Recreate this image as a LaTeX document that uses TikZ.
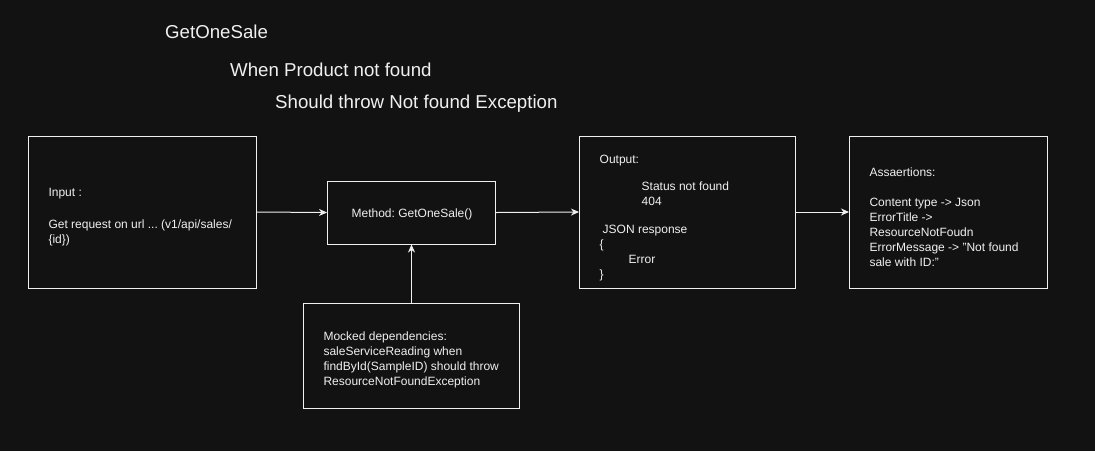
\documentclass[tikz,border=0pt]{standalone}
\usepackage{fontspec}
\setmainfont{Liberation Sans}
\usetikzlibrary{arrows.meta}
\definecolor{bg}{RGB}{18,18,18}
\definecolor{fg}{RGB}{240,240,240}
\frenchspacing
\begin{document}
\begin{tikzpicture}[x=1pt,y=-1pt,
  box/.style={draw=fg, line width=1pt, fill=bg, inner sep=0pt},
  txt/.style={text=fg, font=\fontsize{12}{15}\selectfont, align=left, inner sep=0pt, anchor=base west},
  ttl/.style={text=fg, font=\fontsize{18.67}{22}\selectfont, inner sep=0pt, anchor=base west},
  arr/.style={draw=fg, line width=1pt, -{Stealth[length=8pt,width=7pt,inset=2.5pt]}}]
\useasboundingbox[fill=bg] (0,0) rectangle (1095,451);

\node[ttl] (t1) at (165,38.3) {GetOneSale};
\node[ttl] (t2) at (230,76.7) {When Product not found};
\node[ttl] (t3) at (275,108.3) {Should throw Not found Exception};

\node[box, minimum width=228pt, minimum height=152pt] (input) at (142,212) {};
\node[box, minimum width=168pt, minimum height=63pt] (method) at (411.5,212.5) {};
\node[box, minimum width=216pt, minimum height=152pt] (output) at (687.5,212) {};
\node[box, minimum width=198pt, minimum height=152pt] (assert) at (948.5,212) {};
\node[box, minimum width=216pt, minimum height=105pt] (mocked) at (411.5,355.5) {};

% base anchor of a multi-line node = baseline of its last line
\node[txt] (inputtxt) at (48.3,243.5) {Input :\\[16.7pt]Get request on url ... (v1/api/sales/\\\{id\})};
\node[txt, anchor=base] (methodtxt) at (412,217.3) {Method: GetOneSale()};
\node[txt] (outputtxt) at (599.5,278) {Output:\\[12.7pt]\hspace*{42pt}Status not found\\\hspace*{42pt}404\\[12.3pt]\hspace*{3pt}JSON response\\\{\\\hspace*{29pt}Error\\\}};
\node[txt] (asserttxt) at (869.3,266.5) {Assaertions:\\[15pt]Content type -> Json\\ErrorTitle ->\\ResourceNotFoudn\\ErrorMessage -> "Not found\\sale with ID:"};
\node[txt] (mockedtxt) at (323.3,385.8) {Mocked dependencies:\\saleServiceReading when\\findById(SampleID) should throw\\ResourceNotFoundException};

\draw[arr] (input.east) -- (method.west);
\draw[arr] (method.east) -- (output.west);
\draw[arr] (output.east) -- (assert.west);
\draw[arr] (mocked.north) -- (method.south);
\end{tikzpicture}
\end{document}
